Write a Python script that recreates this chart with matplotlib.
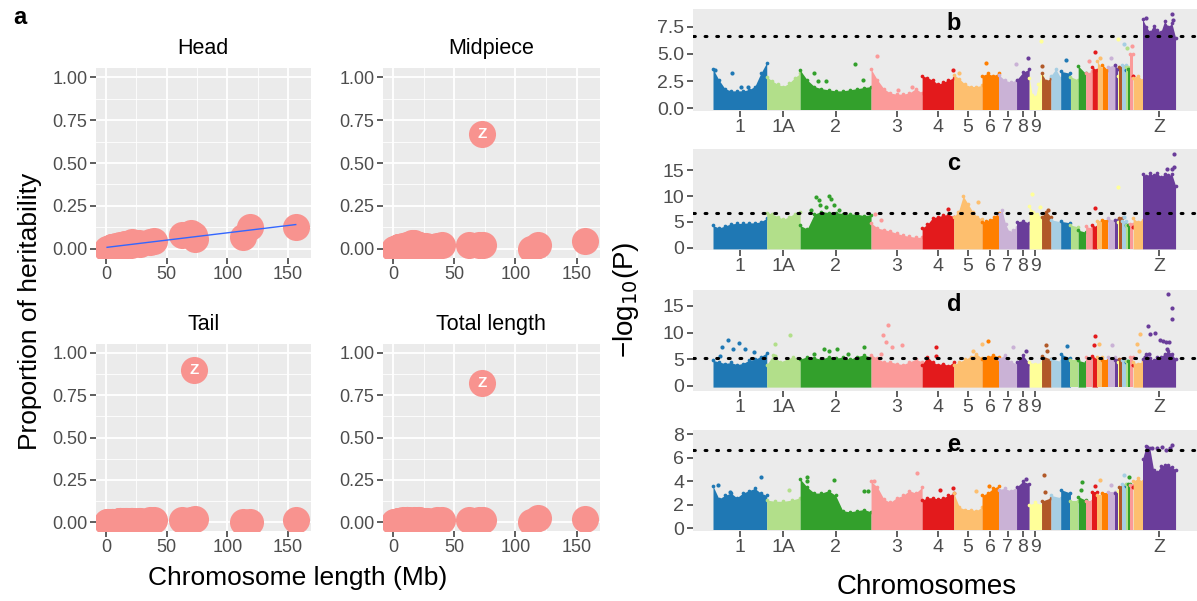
import numpy as np
import matplotlib
matplotlib.use("Agg")
import matplotlib.pyplot as plt
from matplotlib.ticker import MultipleLocator

plt.rcParams['font.family'] = ['Liberation Sans', 'DejaVu Sans']

# chromosomes (zebra finch) and lengths in Mb
chrom_names = ["1", "1A", "2", "3", "4", "5", "6", "7", "8", "9", "10", "11", "12", "13",
               "14", "15", "17", "18", "19", "20", "21", "22", "23", "24", "25", "26", "27",
               "28", "LGE22", "4A", "Z"]
chrom_len = [118.5, 73.7, 156.4, 112.6, 69.8, 62.4, 36.3, 39.8, 27.9, 27.2, 20.8, 21.4,
             21.6, 17.0, 16.4, 14.4, 11.6, 11.2, 11.6, 15.7, 6.0, 3.4, 6.2, 8.0, 1.3, 4.9,
             4.6, 5.0, 0.9, 20.7, 72.9]
labelled = ["1", "1A", "2", "3", "4", "5", "6", "7", "8", "9", "Z"]

# proportion of heritability per chromosome (panel a)
head_h = [0.13, 0.06, 0.13, 0.07, 0.09, 0.08, 0.04, 0.045, 0.03, 0.035, 0.02, 0.035, 0.04,
          0.02, 0.03, 0.025, 0.015, 0.025, 0.015, 0.03, 0.01, 0.0, 0.01, 0.015, 0.0, 0.0,
          0.01, 0.01, 0.0, 0.03, 0.08]
mid_h = [0.02, 0.02, 0.045, 0.0, 0.02, 0.025, 0.015, 0.02, 0.01, 0.015, 0.02, 0.015, 0.02,
         0.035, 0.03, 0.03, 0.02, 0.01, 0.015, 0.035, 0.01, 0.0, 0.01, 0.015, 0.0, 0.01,
         0.01, 0.01, 0.0, 0.02, 0.67]
tail_h = [0.0, 0.02, 0.01, 0.0, 0.01, 0.01, 0.01, 0.015, 0.005, 0.005, 0.005, 0.005, 0.005,
          0.005, 0.005, 0.005, 0.005, 0.005, 0.005, 0.005, 0.0, 0.0, 0.0, 0.0, 0.0, 0.0,
          0.0, 0.0, 0.0, 0.005, 0.90]
total_h = [0.025, 0.01, 0.02, 0.0, 0.015, 0.015, 0.01, 0.01, 0.005, 0.005, 0.005, 0.005,
           0.01, 0.01, 0.005, 0.005, 0.01, 0.01, 0.015, 0.005, 0.005, 0.0, 0.005, 0.01, 0.0,
           0.005, 0.005, 0.005, 0.0, 0.01, 0.82]
facet_titles = ["Head", "Midpiece", "Tail", "Total length"]
facet_values = [head_h, mid_h, tail_h, total_h]
facet_zlabel = [False, True, True, True]

# Manhattan plots: upper envelope of the dense cloud along each chromosome
prof_b = {"1": [3.6, 2.6, 1.8, 1.6, 1.6, 1.6, 1.7, 2.0, 3.2, 4.2],
          "1A": [2.9, 2.5, 2.2, 2.0, 2.3, 2.8, 3.2],
          "2": [3.5, 2.6, 2.0, 1.8, 1.7, 1.6, 1.6, 1.7, 1.8, 1.9, 2.0],
          "3": [3.6, 2.6, 1.8, 1.4, 1.3, 1.3, 1.4, 1.8, 1.4],
          "4": [3.0, 2.8, 2.6, 2.2, 2.4, 2.6, 2.8], "5": [3.1, 2.7, 2.2, 2.0, 2.0, 2.1],
          "6": [3.0, 3.2, 3.0, 3.2], "7": [3.1, 2.6, 2.4, 2.6], "8": [2.6, 3.3, 3.6],
          "9": [2.8, 1.2, 1.0, 2.2, 3.0], "10": [3.2, 2.5, 2.8], "11": [3.0, 3.6, 2.8],
          "12": [3.4, 3.2], "13": [2.9, 2.6], "14": [3.9, 3.2], "15": [3.2, 3.4],
          "17": [3.8, 3.5], "18": [4.3, 3.6], "19": [4.0, 3.5], "20": [3.8, 4.0],
          "21": [4.0, 3.6], "22": [3.0], "23": [3.8], "24": [4.0], "25": [3.5], "26": [3.8],
          "27": [3.6], "28": [5.0], "LGE22": [3.0], "4A": [2.8, 3.0, 2.6],
          "Z": [8.2, 7.5, 7.0, 7.6, 7.2, 7.0, 8.0, 7.5, 7.8, 6.5]}
prof_c = {"1": [4.3, 3.8, 4.2, 4.6, 4.7, 4.7, 4.8, 4.8, 5.0, 5.7],
          "1A": [6.8, 6.5, 6.0, 5.5, 6.0, 6.6, 6.9],
          "2": [4.3, 3.6, 6.5, 7.0, 6.8, 6.8, 6.6, 6.5, 6.5, 6.2, 6.4],
          "3": [4.8, 3.8, 3.5, 3.2, 2.8, 2.4, 2.2, 2.0, 2.0],
          "4": [3.8, 4.5, 5.8, 6.0, 6.3, 6.4, 6.0], "5": [6.0, 7.0, 10.0, 8.5, 7.0, 6.0, 5.5],
          "6": [5.0, 5.2, 5.4, 6.0, 6.8], "7": [6.5, 7.2, 4.5, 3.0, 3.5, 4.0],
          "8": [5.0, 5.2, 4.8], "9": [8.0, 7.0, 6.5, 6.0], "10": [6.0, 7.0, 6.0],
          "11": [5.4, 5.0], "12": [5.1, 4.8], "13": [4.4, 4.0], "14": [3.4, 3.0],
          "15": [4.1, 3.8], "17": [4.4, 4.0], "18": [5.1], "19": [5.4], "20": [5.7, 5.2],
          "21": [5.4], "22": [5.0], "23": [5.7], "24": [5.1], "25": [4.4], "26": [4.4],
          "27": [4.4], "28": [4.6], "LGE22": [4.0], "4A": [5.7, 5.0, 5.4],
          "Z": [14.2, 13.8, 14.4, 14.0, 14.5, 13.6, 14.3, 14.0, 14.2, 12.0]}
prof_d = {"1": [4.8, 4.5, 4.2, 4.4, 4.0, 4.2, 4.8, 5.0, 5.5, 6.2],
          "1A": [4.0, 5.8, 4.5, 5.0, 5.5, 4.8],
          "2": [5.0, 5.5, 5.3, 5.0, 5.5, 5.2, 5.4, 5.0, 5.5, 5.8, 5.4],
          "3": [5.8, 5.2, 4.5, 4.5, 4.2, 4.0, 4.5, 5.0, 4.5],
          "4": [4.0, 5.5, 4.5, 4.0, 4.2, 3.8, 4.5], "5": [4.0, 4.5, 5.0, 5.5, 6.0, 5.2],
          "6": [5.0, 5.5, 5.8, 5.5], "7": [5.0, 5.8, 4.5, 4.2], "8": [4.5, 5.8, 4.2],
          "9": [4.4, 4.2, 4.4], "10": [5.7, 5.0], "11": [5.1, 4.6], "12": [6.0, 5.2],
          "13": [4.8], "14": [4.8, 4.4], "15": [5.4], "17": [5.7, 5.0], "18": [5.4],
          "19": [4.8], "20": [5.4], "21": [4.8], "22": [4.4], "23": [5.0], "24": [4.8],
          "25": [4.4], "26": [4.6], "27": [4.6], "28": [5.4], "LGE22": [4.0],
          "4A": [4.4, 4.2, 4.6], "Z": [5.0, 6.0, 5.2, 4.8, 5.5, 5.5, 6.0, 6.5, 6.0, 5.0]}
prof_e = {"1": [3.6, 2.5, 2.8, 3.0, 2.6, 3.0, 3.2, 3.4, 3.0, 2.8],
          "1A": [2.4, 2.3, 2.3, 2.4, 2.6],
          "2": [4.2, 3.5, 3.0, 3.0, 3.2, 2.8, 1.5, 1.4, 1.5, 1.6, 1.4],
          "3": [4.0, 3.5, 2.5, 2.2, 2.6, 2.8, 3.2, 3.0, 3.5],
          "4": [2.4, 2.6, 2.6, 2.5, 2.6, 2.8, 3.0], "5": [3.0, 1.8, 1.6, 1.6, 1.5, 1.8],
          "6": [2.8, 3.0, 3.4, 3.6], "7": [3.3, 3.4, 3.2, 3.5], "8": [3.5, 4.0, 3.8],
          "9": [2.0, 2.2, 2.0], "10": [2.3, 2.6], "11": [2.8, 2.6], "12": [3.3, 3.0],
          "13": [2.3], "14": [2.7, 2.4], "15": [2.3], "17": [3.1], "18": [2.8], "19": [3.0],
          "20": [3.1], "21": [3.0], "22": [3.2], "23": [3.5], "24": [3.8], "25": [3.6],
          "26": [3.8], "27": [3.8], "28": [3.7], "LGE22": [3.5], "4A": [4.0, 4.25, 4.0],
          "Z": [5.9, 7.0, 6.8, 5.0, 4.8, 5.3, 5.4, 5.4, 5.2, 5.0]}

# isolated SNPs above the cloud: (chromosome, position along chromosome 0-1, -log10 P)
out_b = [("1", 0.03, 3.5), ("1", 0.35, 3.2), ("1", 0.52, 2.0), ("1", 0.66, 2.0),
         ("2", 0.2, 3.2), ("2", 0.25, 2.5), ("2", 0.36, 2.5), ("2", 0.78, 4.1),
         ("2", 0.88, 2.6), ("3", 0.11, 4.8), ("3", 0.52, 1.7), ("3", 0.8, 2.0),
         ("4", 0.98, 3.5), ("5", 0.2, 3.2), ("6", 0.22, 4.2), ("7", 0.98, 4.1),
         ("8", 0.9, 4.6), ("9", 0.97, 6.2), ("10", 0.1, 3.9), ("12", 0.5, 4.4),
         ("15", 0.5, 4.3), ("17", 0.5, 5.2), ("18", 0.5, 4.6), ("20", 0.5, 4.6),
         ("22", 0.5, 6.4), ("24", 0.5, 5.9), ("26", 0.5, 5.5), ("28", 0.5, 5.7),
         ("Z", 0.1, 8.3), ("Z", 0.9, 8.7), ("Z", 0.92, 8.1)]
out_c = [("2", 0.22, 9.8), ("2", 0.27, 9.2), ("2", 0.41, 10.0), ("2", 0.44, 9.5),
         ("2", 0.28, 8.3), ("2", 0.48, 8.2), ("2", 0.37, 7.8), ("2", 0.55, 7.3),
         ("2", 0.15, 7.2), ("3", 0.08, 6.5), ("3", 0.2, 5.4), ("4", 0.82, 7.5),
         ("5", 0.85, 8.9), ("9", 0.2, 10.3), ("9", 0.85, 7.8), ("10", 0.7, 7.3),
         ("17", 0.5, 7.6), ("24", 0.5, 6.0), ("22", 0.5, 11.8), ("Z", 0.95, 18.2),
         ("Z", 0.95, 15.6), ("Z", 0.9, 15.3), ("Z", 0.75, 15.2)]
out_d = [("1", 0.27, 8.7), ("1", 0.49, 8.1), ("1", 0.16, 7.3), ("1", 0.38, 7.0),
         ("1", 0.59, 7.0), ("1", 0.13, 5.7), ("1", 0.77, 6.3), ("1A", 0.24, 7.9),
         ("1A", 0.7, 9.5), ("1A", 0.26, 5.7), ("2", 0.2, 5.9), ("2", 0.33, 7.0),
         ("2", 0.41, 6.6), ("2", 0.52, 7.0), ("2", 0.9, 7.3), ("2", 0.68, 6.0),
         ("3", 0.34, 11.4), ("3", 0.23, 9.5), ("3", 0.3, 8.2), ("3", 0.41, 7.3),
         ("3", 0.6, 7.6), ("3", 0.19, 6.0), ("4", 0.45, 7.3), ("4", 0.45, 5.7),
         ("5", 0.99, 7.9), ("5", 0.68, 6.6), ("6", 0.38, 8.5), ("7", 0.79, 7.3),
         ("8", 0.76, 6.6), ("10", 0.5, 7.6), ("10", 0.6, 6.6), ("12", 0.6, 7.4),
         ("17", 0.5, 9.3), ("17", 0.3, 7.6), ("18", 0.3, 7.8), ("20", 0.6, 7.6),
         ("4A", 0.4, 7.9), ("4A", 0.6, 6.6), ("4A", 0.7, 9.7),
         ("Z", 0.16, 11.3), ("Z", 0.22, 9.8), ("Z", 0.38, 9.9), ("Z", 0.52, 8.7),
         ("Z", 0.62, 8.4), ("Z", 0.71, 8.3), ("Z", 0.79, 8.2), ("Z", 0.73, 7.0),
         ("Z", 0.76, 17.3), ("Z", 0.9, 14.7), ("Z", 0.9, 12.5), ("Z", 0.2, 6.0),
         ("Z", 0.08, 5.4)]
out_e = [("1", 0.9, 4.4), ("1", 0.31, 3.1), ("1", 0.09, 3.7), ("1A", 0.67, 3.3),
         ("2", 0.09, 4.4), ("2", 0.09, 4.0), ("2", 0.48, 4.1), ("2", 0.9, 3.2),
         ("2", 0.95, 3.2), ("3", 0.9, 4.7), ("3", 0.06, 4.0), ("4", 0.57, 3.3),
         ("4", 0.98, 3.4), ("5", 0.8, 3.2), ("6", 0.45, 3.6), ("8", 0.76, 4.2),
         ("10", 0.3, 4.5), ("10", 0.35, 3.1), ("14", 0.5, 3.96), ("14", 0.4, 3.3),
         ("17", 0.5, 3.6), ("18", 0.5, 4.1), ("20", 0.5, 3.7), ("24", 0.5, 4.5),
         ("27", 0.5, 4.4), ("Z", 0.15, 6.9), ("Z", 0.3, 6.8), ("Z", 0.45, 6.8),
         ("Z", 0.6, 6.9), ("Z", 0.72, 6.7), ("Z", 0.82, 6.8), ("Z", 0.9, 7.1)]

man_letters = ["b", "c", "d", "e"]
man_profiles = [prof_b, prof_c, prof_d, prof_e]
man_outliers = [out_b, out_c, out_d, out_e]
thresholds = [6.65, 6.75, 5.3, 6.65]
man_ylim = [(-0.25, 9.12), (-0.45, 19.1), (-0.9, 18.0), (-0.23, 8.37)]
man_yticks = [[0, 2.5, 5, 7.5], [0, 5, 10, 15], [0, 5, 10, 15], [0, 2, 4, 6, 8]]
man_yticklabels = [["0.0", "2.5", "5.0", "7.5"], ["0", "5", "10", "15"],
                   ["0", "5", "10", "15"], ["0", "2", "4", "6", "8"]]

paired = ["#A6CEE3", "#1F78B4", "#B2DF8A", "#33A02C", "#FB9A99", "#E31A1C",
          "#FDBF6F", "#FF7F00", "#CAB2D6", "#6A3D9A", "#FFFF99", "#B15928"]
chrom_col = [paired[(i + 1) % 12] for i in range(len(chrom_names))]
chrom_col[-1] = "#6A3D9A"

W, H = 1197, 601
fig = plt.figure(figsize=(W / 100, H / 100), dpi=100)


def box(l, t, r, b):
    return [l / W, 1 - b / H, (r - l) / W, (b - t) / H]


# ---------- panel a ----------
pink = "#F8938F"
a_boxes = [(95.7, 68, 311, 258), (382.6, 68, 600, 258),
           (95.7, 344, 311, 531), (382.6, 344, 600, 531)]
lens = np.array(chrom_len)
for k in range(4):
    ax = fig.add_axes(box(*a_boxes[k]))
    ax.set_facecolor("#EBEBEB")
    for s in ax.spines.values():
        s.set_visible(False)
    ax.set_xlim(-8.5, 169)
    ax.set_ylim(-0.053, 1.053)
    ax.xaxis.set_major_locator(MultipleLocator(50))
    ax.xaxis.set_minor_locator(MultipleLocator(25))
    ax.yaxis.set_minor_locator(MultipleLocator(0.125))
    ax.set_yticks([0, 0.25, 0.5, 0.75, 1.0])
    ax.set_yticklabels(["0.00", "0.25", "0.50", "0.75", "1.00"])
    ax.grid(which="major", color="white", lw=1.3)
    ax.grid(which="minor", color="white", lw=0.6)
    ax.set_axisbelow(True)
    ax.tick_params(which="major", length=4, width=1.1, color="#333333",
                   labelcolor="#4D4D4D", labelsize=13, pad=2)
    ax.tick_params(which="minor", length=0)
    vals = np.array(facet_values[k])
    ax.scatter(lens, vals, s=380, color=pink, linewidths=0, zorder=3)
    if facet_zlabel[k]:
        ax.text(lens[-1], vals[-1], "Z", color="white", fontweight="bold", fontsize=11,
                ha="center", va="center", zorder=4)
    if k == 0:
        fit = np.polyfit(lens, vals, 1)
        xx = np.array([lens.min(), lens.max()])
        ax.plot(xx, np.polyval(fit, xx), color="#3366FF", lw=1, zorder=4)
    ax.set_title(facet_titles[k], fontsize=15.5, pad=10)

fig.text(20 / W, 1 - 18 / H, "a", fontsize=17, fontweight="bold", ha="center", va="center")
fig.text(298 / W, 1 - 578 / H, "Chromosome length (Mb)", fontsize=19, ha="center",
         va="center")
fig.text(30 / W, 1 - 311 / H, "Proportion of heritability", fontsize=19, rotation=90,
         ha="center", va="center")

# ---------- panels b-e ----------
starts = np.concatenate([[0], np.cumsum(chrom_len)[:-1]])
ends = starts + np.array(chrom_len)
centers = (starts + ends) / 2
px_per_mb = 0.4534
xl = ((692.5 - 713) / px_per_mb, (1216 - 713) / px_per_mb)
m_boxes = [(692.5, 9, 1216, 111), (692.5, 149, 1216, 250),
           (692.5, 290, 1216, 390.7), (692.5, 430, 1216, 531)]
name_idx = {n: i for i, n in enumerate(chrom_names)}
tick_pos = [centers[name_idx[n]] for n in labelled]

for k in range(4):
    ax = fig.add_axes(box(*m_boxes[k]))
    ax.set_facecolor("#EBEBEB")
    for s in ax.spines.values():
        s.set_visible(False)
    ax.set_xlim(*xl)
    ylo, yhi = man_ylim[k]
    ax.set_ylim(ylo, yhi)
    base = -0.012 * (yhi - ylo)
    prof = man_profiles[k]
    for i, n in enumerate(chrom_names):
        p = prof[n]
        if len(p) == 1:
            xs = np.array([starts[i], ends[i]])
            ys = np.array([p[0], p[0]])
        else:
            xs = np.linspace(starts[i], ends[i], len(p))
            ys = np.array(p)
        ax.fill_between(xs, base, ys, color=chrom_col[i], lw=0, zorder=2)
        ax.scatter(xs, ys, s=7, color=chrom_col[i], lw=0, zorder=2)
    for n, f, v in man_outliers[k]:
        i = name_idx[n]
        ax.scatter(starts[i] + f * chrom_len[i], v, s=9, color=chrom_col[i], lw=0,
                   zorder=3)
    ax.axhline(thresholds[k], color="black", lw=2.2, linestyle=(0, (0.6, 3.2)),
               dash_capstyle="round", zorder=4)
    ax.set_yticks(man_yticks[k])
    ax.set_yticklabels(man_yticklabels[k])
    ax.set_xticks(tick_pos)
    ax.set_xticklabels(labelled)
    ax.tick_params(length=4, width=1.1, color="#333333", labelcolor="#4D4D4D",
                   labelsize=14, pad=2)
    top_px = m_boxes[k][1]
    fig.text(954 / W, 1 - (top_px + 3) / H, man_letters[k], fontsize=17,
             fontweight="bold", ha="center", va="top", zorder=5)

fig.text(927 / W, 1 - 587 / H, "Chromosomes", fontsize=20, ha="center", va="center")
fig.text(626 / W, 1 - 300 / H, "\u2212log$_{10}$(P)", fontsize=20, rotation=90,
         ha="center", va="center")

fig.savefig("out.png", dpi=100)
